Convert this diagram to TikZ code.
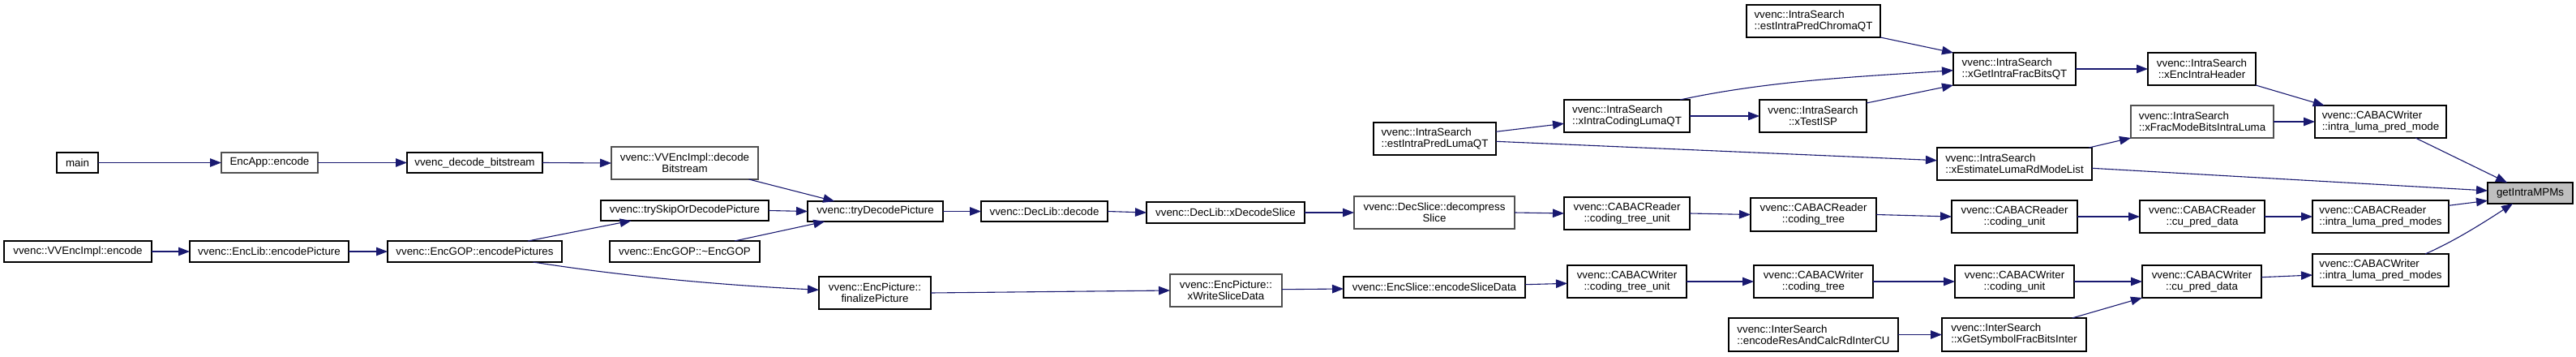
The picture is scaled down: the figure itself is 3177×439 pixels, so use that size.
\documentclass[tikz,border=0pt]{standalone}
\usepackage{fontspec}
\setmainfont{Liberation Sans}
\usetikzlibrary{arrows.meta}
\definecolor{edgec}{HTML}{191970}
\definecolor{graybd}{HTML}{505050}
\definecolor{mpmfill}{HTML}{BFBFBF}
\tikzset{
  fbox/.style={draw=black,fill=white,line width=1.3pt,inner sep=0pt,outer sep=0pt,
    font=\fontsize{13.33}{14}\selectfont,align=center,text=black},
  gbd/.style={draw=graybd},
  lft/.style={align=left},
  ca/.style={draw=edgec,line width=1.1pt,-{Triangle[length=14pt,width=10.5pt]}}
}
\newcommand\mybox[7][]{%
  \node[fbox,#1,minimum width={#5-#3},minimum height={#6-#4}] (#2) at ({(#3+#5)/2},{-(#4+#6)/2}) {#7};}
\begin{document}
\begin{tikzpicture}[x=1pt,y=1pt]
\fill[white] (0,0) rectangle (3177,-439);
\useasboundingbox (0,0) rectangle (3177,-439);
% nodes
\mybox{nmain}{70}{188}{121}{213}{main}
\mybox[gbd]{nencapp}{273}{188}{392}{213}{EncApp::encode}
\mybox{ndecbs}{502}{188}{669}{213}{vvenc\_decode\_bitstream}
\mybox[gbd]{nvvdecbs}{754}{181}{935}{221}{vvenc::VVEncImpl::decode\\Bitstream}
\mybox{nvvenc}{5}{297}{187}{323}{vvenc::VVEncImpl::encode}
\mybox{nenclib}{234}{297}{430}{323}{vvenc::EncLib::encodePicture}
\mybox{nencpics}{478}{297}{693}{323}{vvenc::EncGOP::encodePictures}
\mybox{ntryskip}{741}{247}{948}{272}{vvenc::trySkipOrDecodePicture}
\mybox{ndtor}{752}{297}{937}{323}{vvenc::EncGOP::\textasciitilde EncGOP}
\mybox{ntrydec}{996}{248}{1163}{273}{vvenc::tryDecodePicture}
\mybox{nfinal}{1010}{341}{1148}{381}{vvenc::EncPicture::\\finalizePicture}
\mybox{ndecode}{1210}{248}{1366}{273}{vvenc::DecLib::decode}
\mybox{nxdec}{1414}{249}{1609}{275}{vvenc::DecLib::xDecodeSlice}
\mybox[gbd]{nxwsd}{1443}{338}{1581}{378}{vvenc::EncPicture::\\xWriteSliceData}
\mybox[lft]{nestluma}{1694}{151}{1845}{191}{vvenc::IntraSearch\\::estIntraPredLumaQT}
\mybox[lft]{nxicl}{1929}{123}{2084}{163}{vvenc::IntraSearch\\::xIntraCodingLumaQT}
\mybox[gbd]{ndecomp}{1670}{242}{1868}{282}{vvenc::DecSlice::decompress\\Slice}
\mybox{nrctu}{1929}{243}{2084}{283}{vvenc::CABACReader\\::coding\_tree\_unit}
\mybox{nesd}{1657}{341}{1881}{367}{vvenc::EncSlice::encodeSliceData}
\mybox{nwctu}{1933}{327}{2080}{367}{vvenc::CABACWriter\\::coding\_tree\_unit}
\mybox[lft]{nchroma}{2154}{6}{2319}{46}{vvenc::IntraSearch\\::estIntraPredChromaQT}
\mybox[lft]{nxgif}{2409}{65}{2560}{105}{vvenc::IntraSearch\\::xGetIntraFracBitsQT}
\mybox{nisp}{2170}{123}{2302}{163}{vvenc::IntraSearch\\::xTestISP}
\mybox[lft]{nxelr}{2389}{182}{2580}{222}{vvenc::IntraSearch\\::xEstimateLumaRdModeList}
\mybox{nrct}{2159}{244}{2314}{285}{vvenc::CABACReader\\::coding\_tree}
\mybox{nrcu}{2407}{247}{2562}{287}{vvenc::CABACReader\\::coding\_unit}
\mybox{nwct}{2163}{327}{2310}{367}{vvenc::CABACWriter\\::coding\_tree}
\mybox{nwcu}{2411}{327}{2558}{367}{vvenc::CABACWriter\\::coding\_unit}
\mybox[lft]{ninter}{2132}{392}{2341}{433}{vvenc::InterSearch\\::encodeResAndCalcRdInterCU}
\mybox[lft]{nxgsf}{2395}{392}{2573}{433}{vvenc::InterSearch\\::xGetSymbolFracBitsInter}
\mybox{nxeih}{2649}{65}{2782}{105}{vvenc::IntraSearch\\::xEncIntraHeader}
\mybox[lft,gbd]{nxfm}{2628}{130}{2804}{170}{vvenc::IntraSearch\\::xFracModeBitsIntraLuma}
\mybox[lft]{nwilpm}{2855}{130}{3017}{170}{vvenc::CABACWriter\\::intra\_luma\_pred\_mode}
\mybox{nrcpd}{2639}{247}{2793}{287}{vvenc::CABACReader\\::cu\_pred\_data}
\mybox[lft]{nrilpm}{2852}{247}{3020}{287}{vvenc::CABACReader\\::intra\_luma\_pred\_modes}
\mybox{nwcpd}{2642}{327}{2789}{367}{vvenc::CABACWriter\\::cu\_pred\_data}
\mybox[lft]{nwilpms}{2852}{313}{3020}{353}{vvenc::CABACWriter\\::intra\_luma\_pred\_modes}
\mybox[fill=mpmfill]{nmpm}{3068}{225}{3173}{251}{getIntraMPMs}
% edges
\draw[ca] (nmain.east) -- (nencapp.west);
\draw[ca] (nencapp.east) -- (ndecbs.west);
\draw[ca] (ndecbs.east) -- (nvvdecbs.west);
\draw[ca] ([xshift=-11.4pt]nvvdecbs.south east) -- ([xshift=33.3pt]ntrydec.north west);
\draw[ca] (ntryskip.east) -- (ntrydec.west);
\draw[ca] ([xshift=154pt]ndtor.north west) -- ([xshift=21.3pt]ntrydec.south west);
\draw[ca] (nvvenc.east) -- (nenclib.west);
\draw[ca] (nenclib.east) -- (nencpics.west);
\draw[ca] ([xshift=-41.8pt]nencpics.north east) -- ([xshift=37.6pt]ntryskip.south west);
\draw[ca] ([xshift=-35.6pt]nencpics.south east) .. controls +(118,-18.4) and +(-118,5.9) .. ([yshift=3.7pt]nfinal.west);
\draw[ca] (ntrydec.east) -- (ndecode.west);
\draw[ca] (ndecode.east) -- (nxdec.west);
\draw[ca] (nxdec.east) -- (ndecomp.west);
\draw[ca] (ndecomp.east) -- (nrctu.west);
\draw[ca] (nrctu.east) -- (nrct.west);
\draw[ca] (nrct.east) -- (nrcu.west);
\draw[ca] (nrcu.east) -- (nrcpd.west);
\draw[ca] (nrcpd.east) -- (nrilpm.west);
\draw[ca] ([yshift=13.7pt]nrilpm.east) -- ([yshift=-9.3pt]nmpm.west);
\draw[ca] (nfinal.east) -- (nxwsd.west);
\draw[ca] ([yshift=1.3pt]nxwsd.east) -- ([yshift=-2pt]nesd.west);
\draw[ca] ([yshift=3.3pt]nesd.east) -- ([yshift=-2.3pt]nwctu.west);
\draw[ca] (nwctu.east) -- (nwct.west);
\draw[ca] (nwct.east) -- (nwcu.west);
\draw[ca] (nwcu.east) -- (nwcpd.west);
\draw[ca] ([yshift=5.3pt]nwcpd.east) -- ([yshift=-6pt]nwilpms.west);
\draw[ca] ([xshift=-29pt]nwilpms.north east) .. controls +(36,15.7) and +(-36,-23.4) .. ([xshift=31pt]nmpm.south west);
\draw[ca] (ninter.east) -- (nxgsf.west);
\draw[ca] ([xshift=-17.4pt]nxgsf.north east) -- (nwcpd.south west);
\draw[ca] ([yshift=8.7pt]nestluma.east) -- ([yshift=-9.3pt]nxicl.west);
\draw[ca] ([yshift=-3.3pt]nestluma.east) -- ([yshift=4.3pt]nxelr.west);
\draw[ca] ([xshift=-12pt]nxicl.north east) .. controls +(112,24) and +(-112,-7.6) .. ([yshift=-1.7pt]nxgif.west);
\draw[ca] (nxicl.east) -- (nisp.west);
\draw[ca] ([yshift=-4pt]nisp.north east) -- (nxgif.south west);
\draw[ca] (nchroma.south east) -- (nxgif.north west);
\draw[ca] (nxgif.east) -- (nxeih.west);
\draw[ca] (nxeih.south east) -- ([xshift=11.7pt]nwilpm.north west);
\draw[ca] ([xshift=-3.7pt]nxelr.north east) -- (nxfm.south west);
\draw[ca] (nxfm.east) -- (nwilpm.west);
\draw[ca] ([yshift=-5.3pt]nxelr.east) -- ([yshift=3pt]nmpm.west);
\draw[ca] ([xshift=-38pt]nwilpm.south east) -- ([xshift=24pt]nmpm.north west);
\end{tikzpicture}
\end{document}
